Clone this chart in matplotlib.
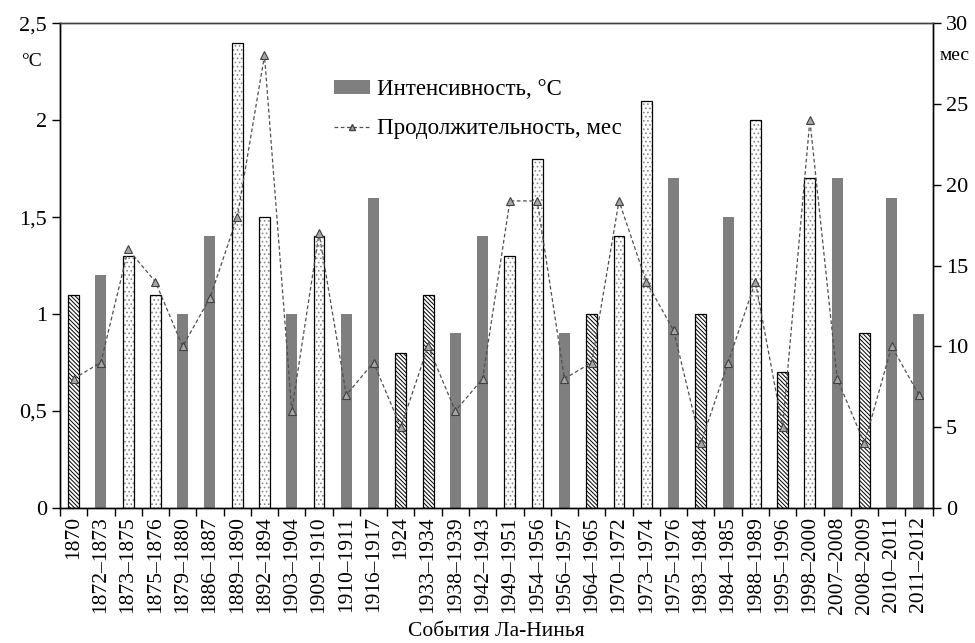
import matplotlib.pyplot as plt
import numpy as np
from matplotlib.patches import Patch
from matplotlib.lines import Line2D
from matplotlib.ticker import FuncFormatter, FixedLocator

plt.rcParams['font.family'] = ['Liberation Serif', 'DejaVu Serif']
plt.rcParams['hatch.linewidth'] = 0.7

events = ['1870', '1872–1873', '1873–1875', '1875–1876', '1879–1880', '1886–1887',
          '1889–1890', '1892–1894', '1903–1904', '1909–1910', '1910–1911', '1916–1917',
          '1924', '1933–1934', '1938–1939', '1942–1943', '1949–1951', '1954–1956',
          '1956–1957', '1964–1965', '1970–1972', '1973–1974', '1975–1976', '1983–1984',
          '1984–1985', '1988–1989', '1995–1996', '1998–2000', '2007–2008', '2008–2009',
          '2010–2011', '2011–2012']

# intensity, degC
intensity = [1.1, 1.2, 1.3, 1.1, 1.0, 1.4, 2.4, 1.5, 1.0, 1.4, 1.0, 1.6,
             0.8, 1.1, 0.9, 1.4, 1.3, 1.8, 0.9, 1.0, 1.4, 2.1, 1.7, 1.0,
             1.5, 2.0, 0.7, 1.7, 1.7, 0.9, 1.6, 1.0]

# duration, months
duration = [8, 9, 16, 14, 10, 13, 18, 28, 6, 17, 7, 9,
            5, 10, 6, 8, 19, 19, 8, 9, 19, 14, 11, 4,
            9, 14, 5, 24, 8, 4, 10, 7]

# bar fill: s = solid, d = dotted, h = hatched
fill = ['h', 's', 'd', 'd', 's', 's', 'd', 'd', 's', 'd', 's', 's',
        'h', 'h', 's', 's', 'd', 'd', 's', 'h', 'd', 'd', 's', 'h',
        's', 'd', 'h', 'd', 's', 'h', 's', 's']

fmt = FuncFormatter(lambda v, p: ('%g' % v).replace('.', ','))

fig = plt.figure(figsize=(9.75, 6.43), dpi=100)
ax = fig.add_axes([0.0615, 0.21, 0.895, 0.754])
ax2 = ax.twinx()

x = np.arange(len(events))
intensity = np.array(intensity)
fill = np.array(fill)
w = 0.4

m = fill == 's'
ax.bar(x[m], intensity[m], w, color='#7f7f7f', zorder=2)
# dotted bars: grey dots, then black outline on top
m = fill == 'd'
ax.bar(x[m], intensity[m], w, facecolor='white', edgecolor='#8a8a8a', linewidth=0,
       hatch='....', zorder=2)
ax.bar(x[m], intensity[m], w, fill=False, edgecolor='black', linewidth=0.9, zorder=2)
m = fill == 'h'
ax.bar(x[m], intensity[m], w, facecolor='white', edgecolor='black', linewidth=0.9,
       hatch='\\\\\\\\\\\\\\\\', zorder=2)

ax2.plot(x, duration, color='#505050', linestyle=(0, (3, 2)), linewidth=0.9,
         marker='^', markersize=6, markerfacecolor='#a6a6a6', markeredgecolor='#404040',
         markeredgewidth=0.8)

ax.set_xlim(-0.5, len(events) - 0.5)
ax.set_ylim(0, 2.5)
ax2.set_ylim(0, 30)
ax.set_yticks([0, 0.5, 1, 1.5, 2, 2.5])
ax2.set_yticks([0, 5, 10, 15, 20, 25, 30])
ax.yaxis.set_major_formatter(fmt)

ax.set_xticks(x)
ax.set_xticklabels(events, rotation=90, fontsize=15.5)
ax.xaxis.set_minor_locator(FixedLocator(np.arange(len(events) + 1) - 0.5))
ax.tick_params(axis='x', which='major', length=0, pad=6)
ax.tick_params(axis='x', which='minor', length=6, direction='out', width=1)
ax.tick_params(axis='y', length=6, direction='out', labelsize=16, width=1)
ax2.tick_params(axis='y', length=6, direction='out', labelsize=16, width=1)

for a in (ax, ax2):
    for s in a.spines.values():
        s.set_linewidth(1.0)
    a.spines['top'].set_color('#404040')

ax.set_xlabel('События Ла-Нинья', fontsize=15.5)
ax.xaxis.set_label_coords(0.5, -0.236)
fig.text(0.032, 0.905, '°C', fontsize=14, ha='center', va='center')
fig.text(0.979, 0.913, 'мес', fontsize=14, ha='center', va='center')

handles = [Patch(facecolor='#7f7f7f'),
           Line2D([], [], color='#505050', linestyle=(0, (3, 2)), linewidth=0.9,
                  marker='^', markersize=5, markerfacecolor='#a6a6a6',
                  markeredgecolor='#404040')]
ax.legend(handles, ['Интенсивность, °C', 'Продолжительность, мес'],
          loc='upper left', bbox_to_anchor=(0.29, 0.927), frameon=False,
          fontsize=16.5, handlelength=1.6, handleheight=0.5, handletextpad=0.3,
          labelspacing=0.8)

fig.savefig('out.png', dpi=100)
